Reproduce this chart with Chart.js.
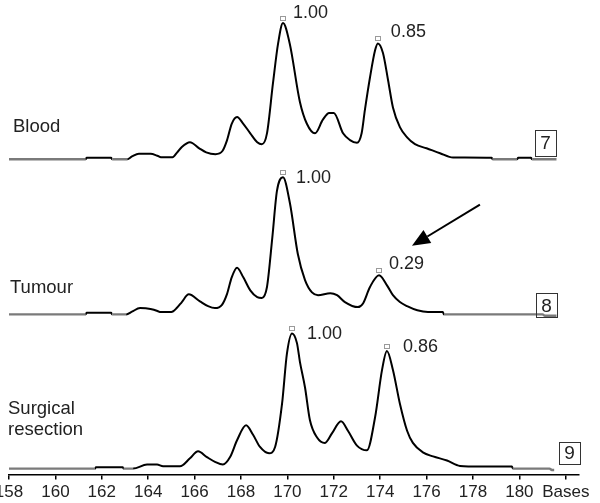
<!DOCTYPE html>
<html>
<head>
<meta charset="utf-8">
<script src="https://cdn.jsdelivr.net/npm/chart.js@4"></script>
<style>
  html, body { margin: 0; padding: 0; background: #fff; overflow: hidden; width: 600px; height: 503px; }
  #wrap { position: absolute; left: -20px; top: 0; width: 620px; height: 506px; }
</style>
</head>
<body>
<div id="wrap"><canvas id="c" width="620" height="506"></canvas></div>
<script>
// ---------- data (bases, relative peak height) ----------
const bloodX = [158,161.3,161.35,162.4,162.45,163.1,163.3,163.6,164.1,164.4,164.55,165.05,165.25,165.45,165.8,166.2,166.5,166.9,167.2,167.4,167.6,167.83,168.1,168.4,168.7,168.9,169.12,169.38,169.6,169.81,170.1,170.54,170.84,171.19,171.53,171.8,172.0,172.4,172.7,173.0,173.2,173.34,173.56,173.78,173.9,174.12,174.34,174.55,174.85,175.16,175.5,176.0,176.58,177.14,178.8,178.85,179.9,179.95,180.5,180.55,181.6];
const bloodY = [0,0,0.01,0.01,0,0,0.02,0.04,0.04,0.025,0.015,0.015,0.05,0.09,0.125,0.08,0.05,0.037,0.06,0.14,0.26,0.31,0.26,0.19,0.125,0.11,0.19,0.56,0.85,1.0,0.85,0.42,0.26,0.19,0.29,0.34,0.34,0.19,0.14,0.12,0.19,0.36,0.60,0.80,0.85,0.78,0.58,0.38,0.235,0.16,0.11,0.08,0.044,0.012,0.01,0,0,0.01,0.01,0,0];

const tumourX = [158,161.3,161.35,162.4,162.45,163.05,163.3,163.65,164.1,164.4,164.5,165.0,165.25,165.45,165.75,166.23,166.58,166.88,167.18,167.4,167.6,167.83,168.1,168.4,168.7,168.9,169.12,169.35,169.55,169.81,170.11,170.45,170.76,171.06,171.32,171.85,172.14,172.48,173.04,173.26,173.56,173.95,174.3,174.55,174.85,175.16,175.6,176.06,176.7,176.75,181.0,181.1,181.6];
const tumourY = [0,0,0.012,0.012,0,0,0.02,0.046,0.04,0.025,0.017,0.017,0.05,0.09,0.146,0.095,0.06,0.046,0.07,0.15,0.27,0.34,0.27,0.175,0.126,0.12,0.2,0.56,0.9,1.0,0.81,0.44,0.25,0.16,0.14,0.155,0.14,0.09,0.053,0.08,0.2,0.285,0.21,0.14,0.09,0.06,0.03,0.017,0.017,0,0,-0.01,-0.01];

const surgX = [158,161.7,161.75,162.9,162.95,163.35,163.95,164.38,164.64,165.37,165.8,166.15,166.53,166.88,167.22,167.53,167.83,168.22,168.52,168.82,169.21,169.47,169.77,169.98,170.2,170.41,170.54,170.76,170.97,171.28,171.62,171.92,172.31,172.61,173.0,173.43,173.78,174.08,174.29,174.55,174.85,175.16,175.41,175.84,176.28,176.88,177.44,178.3,179.68,179.72,181.3,181.4,181.5];
const surgY = [0,0,0.01,0.01,0,0,0.03,0.03,0.017,0.017,0.076,0.128,0.085,0.05,0.03,0.085,0.21,0.32,0.25,0.16,0.113,0.16,0.48,0.85,1.0,0.93,0.79,0.6,0.36,0.23,0.19,0.26,0.35,0.28,0.17,0.135,0.38,0.73,0.87,0.73,0.48,0.28,0.19,0.12,0.09,0.06,0.02,0.015,0.015,0,0,-0.01,-0.01];

// peak annotations
const bloodPeakX = [169.81, 173.9];   const bloodPeakY = [1.00, 0.85];   const bloodPeakLbl = ['1.00','0.85'];
const tumourPeakX = [169.81, 173.95]; const tumourPeakY = [1.00, 0.29]; const tumourPeakLbl = ['1.00','0.29'];
const surgPeakX = [170.2, 174.29];    const surgPeakY = [1.00, 0.87];    const surgPeakLbl = ['1.00','0.86'];

const sampleNames = [['Blood'], ['Tumour'], ['Surgical','resection']];
const laneNumbers = ['7','8','9'];
const laneNumberX = [181.13, 181.17, 182.16];
const xTicks = [158,160,162,164,166,168,170,172,174,176,178,180,182];
const axisEndLabel = 'Bases';
const arrowFrom = [178.3, 0.80];
const arrowTo = [175.37, 0.50];

// ---------- styles ----------
const FONT = "'Liberation Sans', Arial, Helvetica, sans-serif";
const TXT = '#222';
const peakLabelOffsets = { yB: [[10, -10], [13, -11]], yT: [[13, 1], [10, -11]], yS: [[15, 1], [16, -4]] };
const nameOffsets = { yB: [4, -32], yT: [1, -26], yS: [-1, -60] };
const laneBox = { yB: [-16, 21, 26], yT: [-9, 21, 24], yS: [-15.5, 21, 22] };

const pts = (xs, ys) => xs.map((x, i) => ({ x, y: ys[i] }));

function lineDs(xs, ys, axis) {
  return {
    data: pts(xs, ys), yAxisID: axis, borderColor: '#000', borderWidth: 2,
    pointRadius: 0, tension: 0.35, cubicInterpolationMode: 'monotone', fill: false,
    segment: {
      borderColor: ctx => (ctx.p0.parsed.y <= 0 && ctx.p1.parsed.y <= 0) ? '#7a7a7a' : '#000',
      borderWidth: ctx => (ctx.p0.parsed.y <= 0 && ctx.p1.parsed.y <= 0) ? 2.4 : 2
    }
  };
}

const annot = {
  id: 'annot',
  afterDatasetsDraw(chart) {
    const c = chart.ctx, xs = chart.scales.x;
    const panels = [
      ['yB', bloodPeakX, bloodPeakY, bloodPeakLbl, 0],
      ['yT', tumourPeakX, tumourPeakY, tumourPeakLbl, 1],
      ['yS', surgPeakX, surgPeakY, surgPeakLbl, 2]
    ];
    c.save();
    for (const [ax, px, py, pl, k] of panels) {
      const ys = chart.scales[ax];
      for (let i = 0; i < px.length; i++) {
        const X = xs.getPixelForValue(px[i]), Y = ys.getPixelForValue(py[i]);
        c.strokeStyle = '#9a9a9a'; c.lineWidth = 1;
        c.strokeRect(Math.round(X - 3) + 0.5, Math.round(Y - 7) + 0.5, 5, 4);
        c.fillStyle = TXT; c.font = '18px ' + FONT; c.textBaseline = 'middle'; c.textAlign = 'left';
        const o = peakLabelOffsets[ax][i];
        c.fillText(pl[i], X + o[0], Y + o[1]);
      }
      const base = ys.getPixelForValue(0);
      const no = nameOffsets[ax];
      c.fillStyle = TXT; c.font = '18.5px ' + FONT; c.textAlign = 'left'; c.textBaseline = 'middle';
      sampleNames[k].forEach((s, j) => c.fillText(s, chart.chartArea.left + no[0], base + no[1] + j * 21));
      const lb = laneBox[ax];
      const bx = xs.getPixelForValue(laneNumberX[k]), by = base + lb[0];
      c.strokeStyle = '#333'; c.lineWidth = 1;
      c.strokeRect(Math.round(bx - lb[1] / 2) + 0.5, Math.round(by - lb[2] / 2) + 0.5, lb[1], lb[2]);
      c.textAlign = 'center'; c.font = '19px ' + FONT;
      c.fillText(laneNumbers[k], bx, by + 1);
    }
    const yt = chart.scales.yT;
    const x1 = xs.getPixelForValue(arrowFrom[0]), y1 = yt.getPixelForValue(arrowFrom[1]);
    const x2 = xs.getPixelForValue(arrowTo[0]), y2 = yt.getPixelForValue(arrowTo[1]);
    const ang = Math.atan2(y2 - y1, x2 - x1), L = 18, W = 7.5;
    const bxp = x2 - L * Math.cos(ang), byp = y2 - L * Math.sin(ang);
    c.strokeStyle = '#000'; c.lineWidth = 2;
    c.beginPath(); c.moveTo(x1, y1); c.lineTo(bxp, byp); c.stroke();
    c.fillStyle = '#000';
    c.beginPath();
    c.moveTo(x2, y2);
    c.lineTo(bxp + W * Math.sin(ang), byp - W * Math.cos(ang));
    c.lineTo(bxp - W * Math.sin(ang), byp + W * Math.cos(ang));
    c.closePath(); c.fill();
    c.restore();
  }
};

Chart.defaults.font.family = FONT;
Chart.defaults.color = TXT;

const hiddenY = (min, max) => ({
  type: 'linear', display: false, position: 'left', stack: 'lanes', stackWeight: 1, min, max
});

new Chart(document.getElementById('c'), {
  type: 'line',
  data: { datasets: [lineDs(surgX, surgY, 'yS'), lineDs(tumourX, tumourY, 'yT'), lineDs(bloodX, bloodY, 'yB')] },
  options: {
    responsive: false, animation: false, events: [],
    layout: { padding: { left: 29, right: 21, top: 9, bottom: 0 } },
    plugins: { legend: { display: false }, tooltip: { enabled: false } },
    scales: {
      x: {
        type: 'linear', min: 158, max: 182.57,
        afterBuildTicks: s => { s.ticks = xTicks.map(v => ({ value: v })); },
        ticks: {
          autoSkip: false, maxRotation: 0, padding: 3, color: TXT, font: { size: 17 },
          callback: v => v === xTicks[xTicks.length - 1] ? axisEndLabel : String(v)
        },
        grid: { display: true, drawOnChartArea: false, drawTicks: true, tickLength: 5, color: '#000', lineWidth: 1.5 },
        border: { display: true, color: '#000', width: 1.5 }
      },
      yS: hiddenY(-6 / 135, 149 / 135),
      yT: hiddenY(-5 / 137, 150 / 137),
      yB: hiddenY(-5 / 136, 150 / 136)
    }
  },
  plugins: [annot]
});
</script>
</body>
</html>
